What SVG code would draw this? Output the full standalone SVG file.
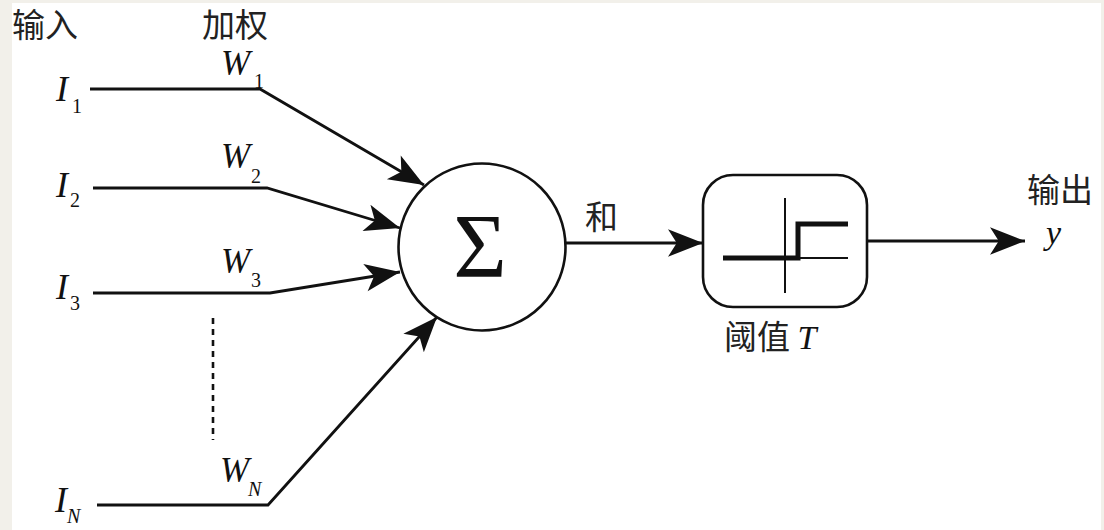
<svg xmlns="http://www.w3.org/2000/svg" width="1104" height="530" viewBox="0 0 1104 530">
<style>
.ln{fill:none;stroke:#111;stroke-width:2.8;stroke-linejoin:miter}
.arr{marker-end:url(#ah)}
.cn{font-family:"Noto Sans CJK SC","Noto Sans",sans-serif;font-size:33px;fill:#222}
.it{font-family:"Liberation Serif","Times New Roman",serif;font-style:italic;fill:#111}
.sub{font-family:"Liberation Serif","Times New Roman",serif;fill:#111;font-size:20px}
.subi{font-family:"Liberation Serif","Times New Roman",serif;font-style:italic;fill:#111;font-size:20px}
</style>
<defs>
<marker id="ah" markerUnits="userSpaceOnUse" markerWidth="40" markerHeight="30" viewBox="-30 -12 32 24" refX="0" refY="0" orient="auto">
<path d="M0,0 L-28,-11 L-21,0 L-28,11 Z" fill="#111"/>
</marker>
</defs>
<rect x="0" y="0" width="1104" height="530" fill="#f2f0ea"/>
<rect x="12" y="3" width="1089" height="527" fill="#ffffff"/>

<g id="connectors">
<polyline class="ln arr" points="90,89 260,89 424,185"/>
<polyline class="ln arr" points="93,188 267,188 400,228"/>
<polyline class="ln arr" points="93,293 270,293 400,272"/>
<polyline class="ln arr" points="97,505 268,505 437,317"/>
<line x1="213" y1="318" x2="213" y2="440" stroke="#111" stroke-width="2.6" stroke-dasharray="6,5"/>
<line class="ln arr" x1="566" y1="243" x2="703" y2="243"/>
<line class="ln arr" x1="867" y1="241" x2="1025" y2="241"/>
</g>

<g id="labels-left">
<text class="cn" x="12" y="37" font-size="31">输入</text>
<text class="cn" x="202" y="37" font-size="31">加权</text>
<text class="it" x="56" y="101" font-size="36">I</text><text class="sub" x="72" y="113">1</text>
<text class="it" x="56" y="197" font-size="36">I</text><text class="sub" x="70" y="207">2</text>
<text class="it" x="56" y="299" font-size="36">I</text><text class="sub" x="70" y="310">3</text>
<text class="it" x="55" y="512" font-size="36">I</text><text class="subi" x="67" y="523">N</text>
<text class="it" x="221" y="75" font-size="35">W</text><text class="sub" x="254" y="88">1</text>
<text class="it" x="221" y="168" font-size="35">W</text><text class="sub" x="251" y="183">2</text>
<text class="it" x="221" y="273" font-size="35">W</text><text class="sub" x="251" y="287">3</text>
<text class="it" x="220" y="482" font-size="35">W</text><text class="subi" x="248" y="496">N</text>
</g>

<g id="sum">
<circle cx="482" cy="247" r="83.5" fill="#fff" stroke="#111" stroke-width="2.6"/>
<text x="480" y="277" text-anchor="middle" font-family="Liberation Serif,serif" font-size="92" fill="#111">Σ</text>
</g>
<text id="sum-label" class="cn" x="585" y="229" font-size="32">和</text>

<g id="threshold">
<rect x="703" y="175" width="164" height="132" rx="30" ry="30" fill="#fff" stroke="#111" stroke-width="2.6"/>
<line x1="785" y1="198" x2="785" y2="293" stroke="#111" stroke-width="2"/>
<line x1="723" y1="258" x2="848" y2="258" stroke="#111" stroke-width="2"/>
<polyline points="723,258 798,258 798,224 848,224" fill="none" stroke="#111" stroke-width="5"/>
<text class="cn" x="724" y="349" font-size="32">阈值 <tspan class="it" font-size="34">T</tspan></text>
</g>

<g id="output">
<text class="cn" x="1027" y="202">输出</text>
<text class="it" x="1046" y="244" font-size="34">y</text>
</g>
</svg>
